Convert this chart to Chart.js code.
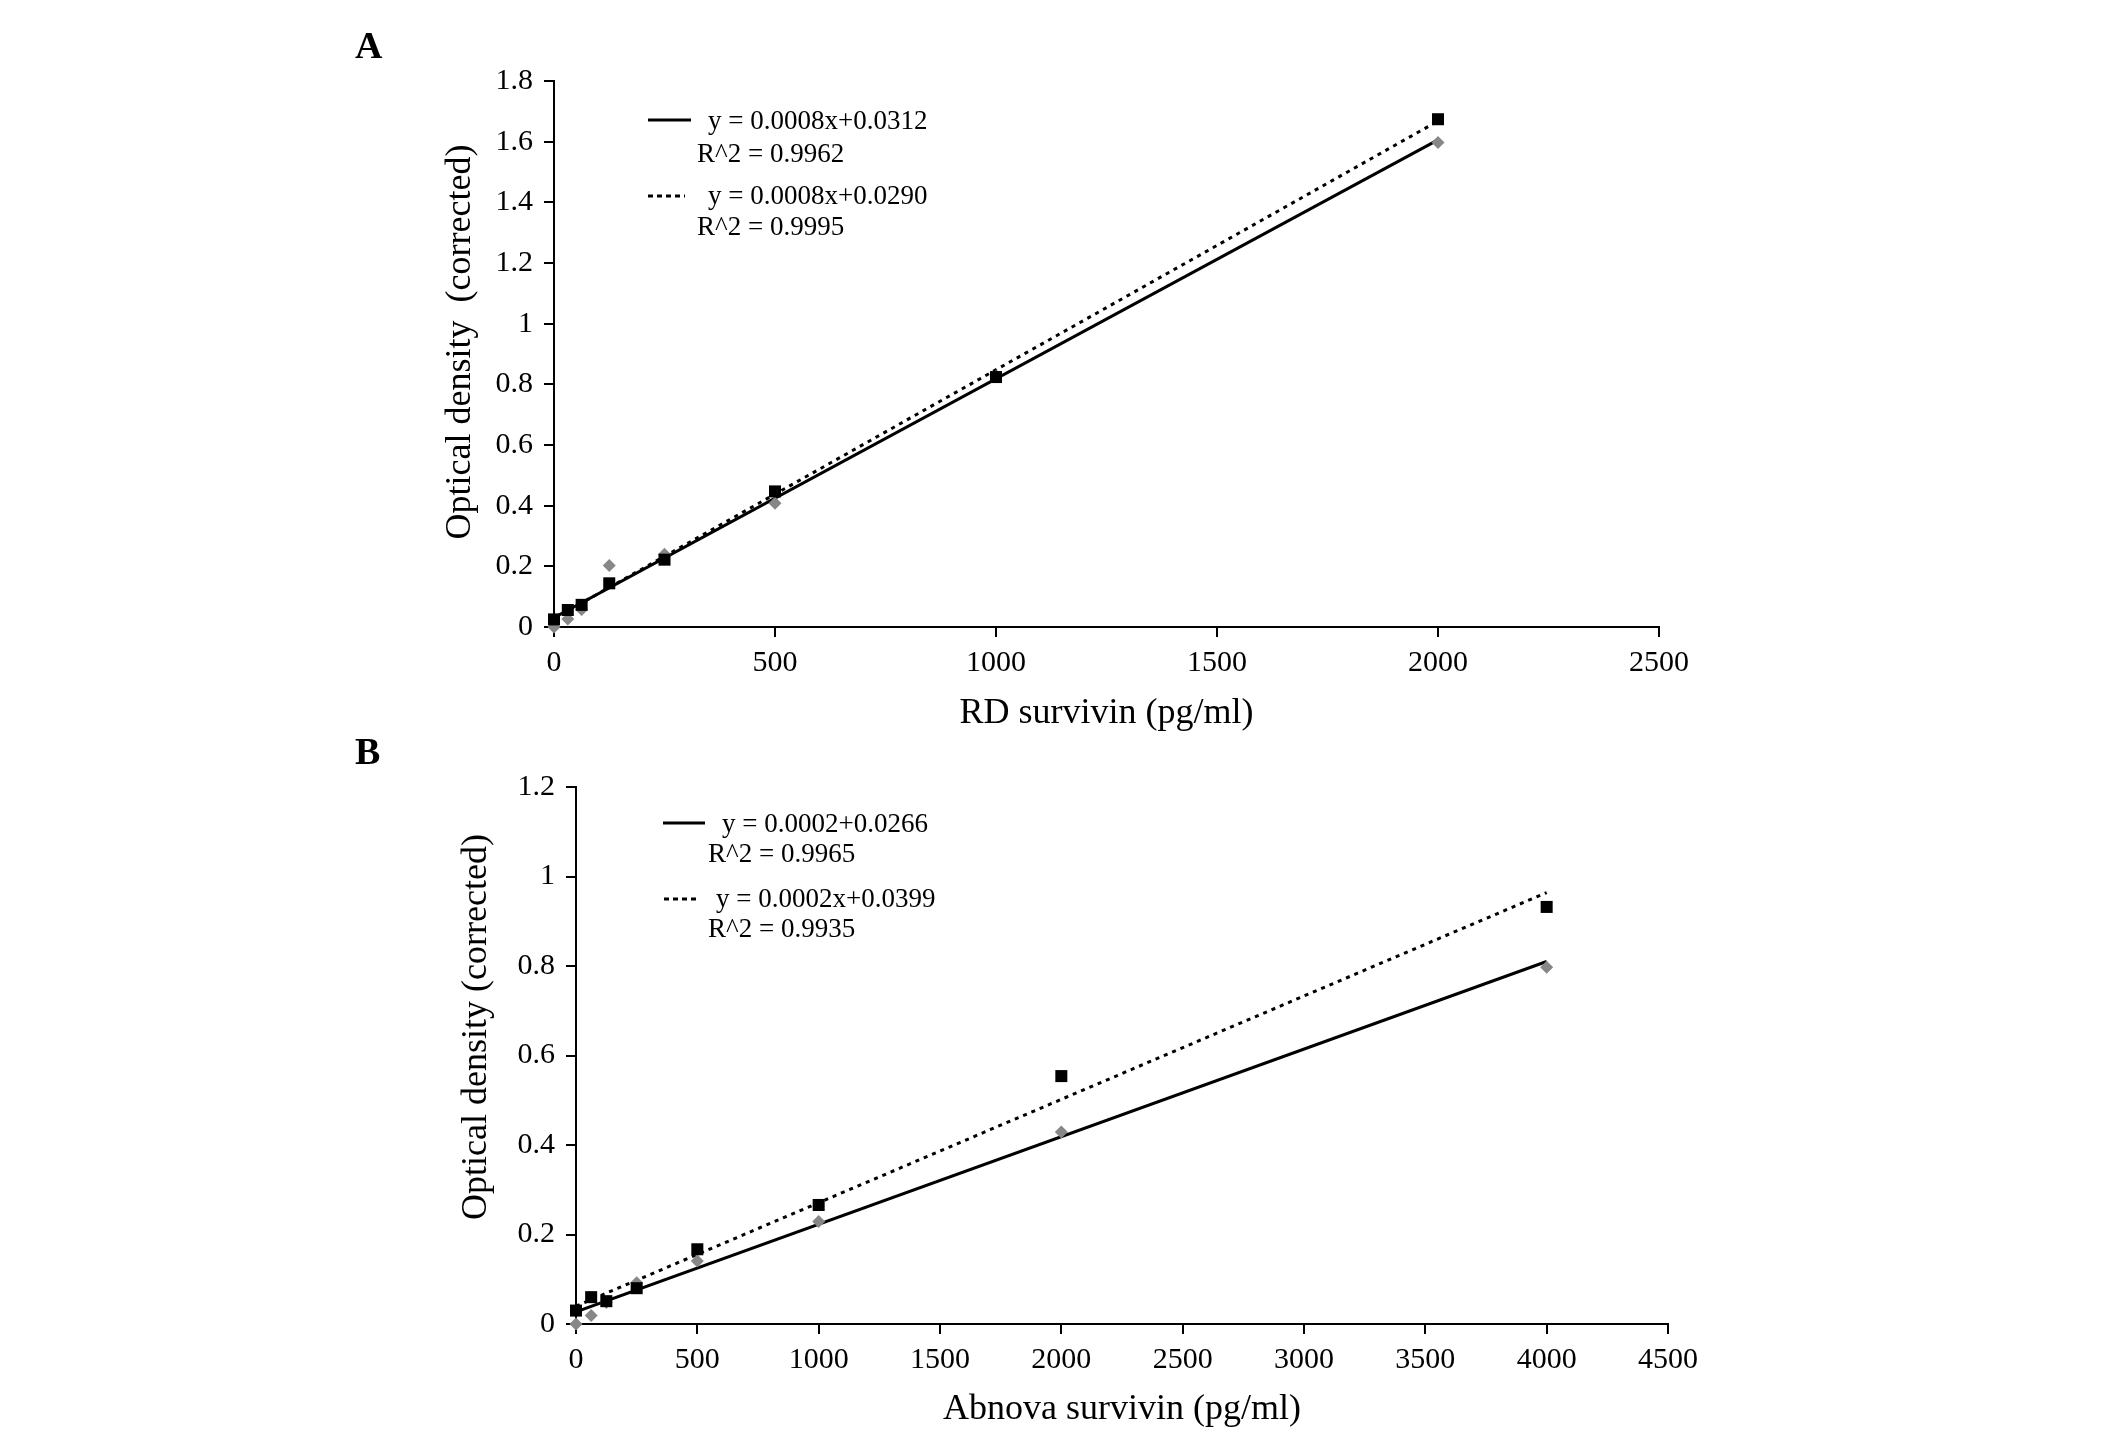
<!DOCTYPE html>
<html lang="en">
<head>
    <meta charset="UTF-8">
    <title>Survivin standard curves</title>
    <script src="https://cdn.jsdelivr.net/npm/chart.js"></script>
    <style>
        body { margin: 0; background: #fff; }
        #wrap { position: relative; width: 2126px; height: 1436px; }
        canvas { position: absolute; left: 0; }
        #chartA { top: 0; }
        #chartB { top: 720px; }
    </style>
</head>
<body>
<div id="wrap">
    <canvas id="chartA" width="2126" height="760"></canvas>
    <canvas id="chartB" width="2126" height="716"></canvas>
</div>

<script>
    // Panel A - RD survivin standards
    const concA = [0, 31.25, 62.5, 125, 250, 500, 1000, 2000];
    const odBlackA = [0.025, 0.056, 0.073, 0.144, 0.222, 0.447, 0.824, 1.674];
    const odGreyA = [0.0, 0.026, 0.058, 0.203, 0.24, 0.408, 0.826, 1.597];
    const fitXA = [0, 2000];
    const fitSolidA = [0.031, 1.606];
    const fitDottedA = [0.028, 1.668];
    const xTicksA = [0, 500, 1000, 1500, 2000, 2500];
    const yTicksA = [0, 0.2, 0.4, 0.6, 0.8, 1, 1.2, 1.4, 1.6, 1.8];
    const legendTextA = ['y = 0.0008x+0.0312', 'R^2 = 0.9962', 'y = 0.0008x+0.0290', 'R^2 = 0.9995'];

    // Panel B - Abnova survivin standards
    const concB = [0, 62.5, 125, 250, 500, 1000, 2000, 4000];
    const odBlackB = [0.03, 0.06, 0.051, 0.08, 0.167, 0.266, 0.554, 0.932];
    const odGreyB = [0.0, 0.019, 0.048, 0.092, 0.141, 0.229, 0.429, 0.797];
    const fitXB = [0, 4000];
    const fitSolidB = [0.027, 0.81];
    const fitDottedB = [0.04, 0.964];
    const xTicksB = [0, 500, 1000, 1500, 2000, 2500, 3000, 3500, 4000, 4500];
    const yTicksB = [0, 0.2, 0.4, 0.6, 0.8, 1, 1.2];
    const legendTextB = ['y = 0.0002+0.0266', 'R^2 = 0.9965', 'y = 0.0002x+0.0399', 'R^2 = 0.9935'];

    const SERIF = "'Liberation Serif', 'Times New Roman', serif";

    const pts = (xs, ys) => xs.map((x, i) => ({ x: x, y: ys[i] }));

    // panel letter, rotated y title and the equation legend
    const panelText = {
        id: 'panelText',
        afterDraw(chart, args, opts) {
            const ctx = chart.ctx;
            const area = chart.chartArea;
            ctx.save();
            ctx.fillStyle = '#000';
            ctx.textBaseline = 'middle';

            ctx.font = 'bold 38px ' + SERIF;
            ctx.textAlign = 'left';
            ctx.fillText(opts.letter, opts.letterX, opts.letterY);

            ctx.save();
            ctx.translate(opts.titleX, opts.titleY);
            ctx.rotate(-Math.PI / 2);
            ctx.textAlign = 'center';
            ctx.font = '36px ' + SERIF;
            ctx.fillText(opts.yTitle, 0, 0);
            ctx.restore();

            ctx.font = '27px ' + SERIF;
            ctx.textAlign = 'left';
            opts.rows.forEach(r => {
                if (r.x1) {
                    ctx.beginPath();
                    ctx.lineWidth = 3;
                    ctx.strokeStyle = '#000';
                    ctx.setLineDash(r.dash);
                    ctx.moveTo(area.left + r.x0, area.top + r.y);
                    ctx.lineTo(area.left + r.x1, area.top + r.y);
                    ctx.stroke();
                    ctx.setLineDash([]);
                }
                ctx.fillText(r.text, area.left + r.tx, area.top + r.ty);
            });
            ctx.restore();
        }
    };

    function makePanel(id, p) {
        const axisFont = { family: SERIF, size: 30 };
        return new Chart(document.getElementById(id), {
            type: 'scatter',
            data: {
                datasets: [
                    {
                        data: pts(p.conc, p.black), pointStyle: 'rect', pointRadius: 8.5,
                        pointBackgroundColor: '#000', pointBorderWidth: 0, clip: false, order: 0
                    },
                    {
                        data: pts(p.conc, p.grey), pointStyle: 'rectRot', pointRadius: 6.5,
                        pointBackgroundColor: '#878787', pointBorderWidth: 0, clip: false, order: 1
                    },
                    {
                        data: pts(p.fitX, p.solid), showLine: true, borderColor: '#000',
                        borderWidth: 3, pointRadius: 0, order: 2
                    },
                    {
                        data: pts(p.fitX, p.dotted), showLine: true, borderColor: '#000',
                        borderWidth: 3, borderDash: [4, 5], pointRadius: 0, order: 3
                    }
                ]
            },
            options: {
                responsive: false,
                animation: false,
                devicePixelRatio: 1,
                layout: { padding: p.padding },
                plugins: {
                    legend: { display: false },
                    tooltip: { enabled: false },
                    panelText: p.text
                },
                scales: {
                    x: {
                        type: 'linear', min: 0, max: p.xTicks[p.xTicks.length - 1],
                        afterBuildTicks: s => { s.ticks = p.xTicks.map(v => ({ value: v })); },
                        afterFit: s => { s.height = p.xHeight; },
                        ticks: {
                            font: axisFont, color: '#000', padding: 8, maxRotation: 0,
                            autoSkip: false, callback: v => String(v)
                        },
                        grid: { drawOnChartArea: false, tickLength: 10, color: '#000', lineWidth: 2 },
                        border: { color: '#000', width: 2 },
                        title: {
                            display: true, text: p.xTitle, color: '#000',
                            font: { family: SERIF, size: 36 }, padding: { top: 0, bottom: p.xTitlePad }
                        }
                    },
                    y: {
                        type: 'linear', min: 0, max: p.yTicks[p.yTicks.length - 1],
                        afterBuildTicks: s => { s.ticks = p.yTicks.map(v => ({ value: v })); },
                        afterFit: s => { s.width = 120; },
                        ticks: {
                            font: axisFont, color: '#000', padding: 11,
                            autoSkip: false, callback: v => String(v)
                        },
                        grid: { drawOnChartArea: false, tickLength: 10, color: '#000', lineWidth: 2 },
                        border: { color: '#000', width: 2 }
                    }
                }
            },
            plugins: [panelText]
        });
    }

    makePanel('chartA', {
        conc: concA, black: odBlackA, grey: odGreyA,
        fitX: fitXA, solid: fitSolidA, dotted: fitDottedA,
        xTicks: xTicksA, yTicks: yTicksA,
        xTitle: 'RD survivin (pg/ml)', xTitlePad: 12, xHeight: 120,
        padding: { left: 434, right: 467, top: 81, bottom: 13 },
        text: {
            letter: 'A', letterX: 355, letterY: 48,
            yTitle: 'Optical density  (corrected)', titleX: 461, titleY: 342,
            rows: [
                { dash: [], x0: 94, x1: 137, y: 39, text: legendTextA[0], tx: 154, ty: 41 },
                { text: legendTextA[1], tx: 143, ty: 74 },
                { dash: [5, 4], x0: 94, x1: 131, y: 115, text: legendTextA[2], tx: 154, ty: 116 },
                { text: legendTextA[3], tx: 143, ty: 147 }
            ]
        }
    });

    makePanel('chartB', {
        conc: concB, black: odBlackB, grey: odGreyB,
        fitX: fitXB, solid: fitSolidB, dotted: fitDottedB,
        xTicks: xTicksB, yTicks: yTicksB,
        xTitle: 'Abnova survivin (pg/ml)', xTitlePad: 3, xHeight: 110,
        padding: { left: 456, right: 458, top: 67, bottom: 2 },
        text: {
            letter: 'B', letterX: 355, letterY: 34,
            yTitle: 'Optical density (corrected)', titleX: 477, titleY: 307,
            rows: [
                { dash: [], x0: 87, x1: 129, y: 36, text: legendTextB[0], tx: 146, ty: 38 },
                { text: legendTextB[1], tx: 132, ty: 68 },
                { dash: [5, 4], x0: 88, x1: 123, y: 112, text: legendTextB[2], tx: 140, ty: 113 },
                { text: legendTextB[3], tx: 132, ty: 143 }
            ]
        }
    });
</script>
</body>
</html>
